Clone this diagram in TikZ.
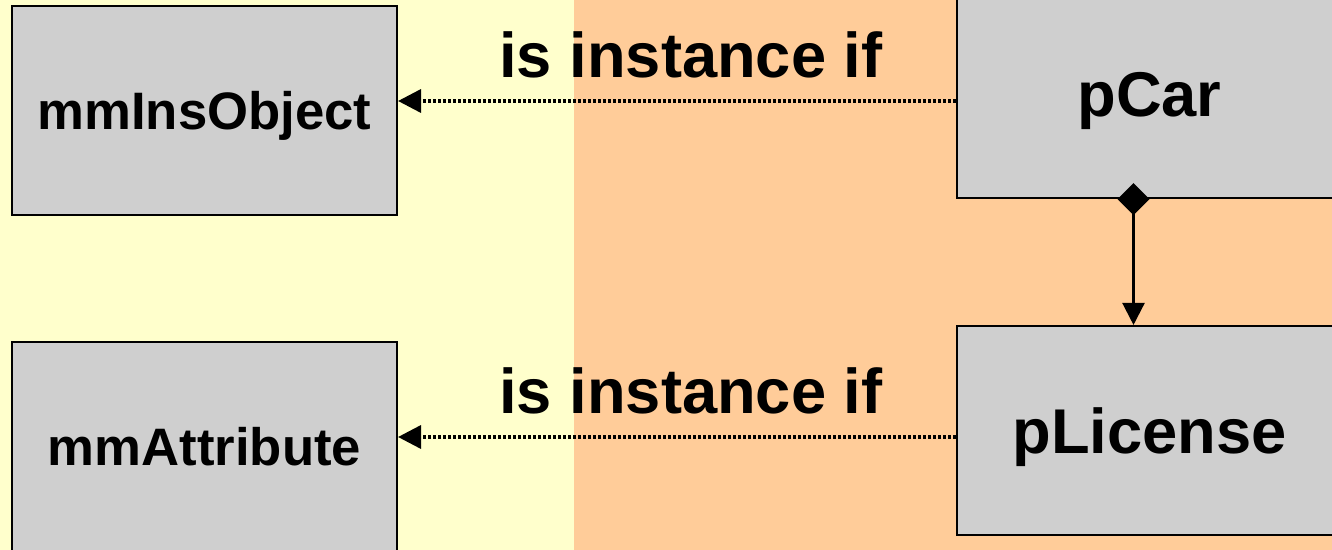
\documentclass[tikz,border=0pt]{standalone}
\usepackage{fontspec}
\setmainfont{Liberation Sans}
\usetikzlibrary{arrows.meta}

\definecolor{metabg}{RGB}{255,255,204}
\definecolor{modelbg}{RGB}{255,204,153}
\definecolor{classgray}{RGB}{207,207,207}

\tikzset{
  classbox/.style={draw, line width=1.2pt, fill=classgray, minimum width=7.7cm,
    minimum height=4.18cm, inner sep=0pt, text depth=0pt},
  metabox/.style={classbox, text height=21.6pt, font=\bfseries\fontsize{30}{36}\selectfont},
  modelbox/.style={classbox, text height=26pt, font=\bfseries\fontsize{36}{43}\selectfont},
  instanceof/.style={line width=2pt, dash pattern=on 0.06cm off 0.04cm,
    -{Triangle[length=0.46cm, width=0.46cm]}},
  instlabel/.style={above=0.42cm, inner sep=0pt, font=\bfseries\fontsize{36}{43}\selectfont},
  partof/.style={line width=1.3pt,
    {Diamond[length=0.64cm, width=0.64cm]}-{Triangle[length=0.44cm, width=0.44cm]}}
}

\begin{document}
\begin{tikzpicture}[x=0.02cm, y=-0.02cm]
  \useasboundingbox (0,0) rectangle (1332,550);
  \clip (0,0) rectangle (1332,550);
  % meta level and model level
  \fill[metabg] (0,0) rectangle (574,550);
  \fill[modelbg] (574,0) rectangle (1332,550);

  \node[metabox] (mmInsObject) at (204.5,110.5) {mmInsObject};
  \node[metabox] (mmAttribute) at (204.5,446.5) {mmAttribute};
  \node[modelbox] (pCar) at (1149.5,93.5) {pCar};
  \node[modelbox] (pLicense) at (1149.5,430.5) {pLicense};

  \draw[instanceof] (pCar.west |- 0,101) --
    node[instlabel, pos=0.475] {is instance if} (mmInsObject.east |- 0,101);
  \draw[instanceof] (pLicense.west |- 0,437) --
    node[instlabel, pos=0.475] {is instance if} (mmAttribute.east |- 0,437);
  % composition
  \draw[partof] ([xshift=-0.32cm, yshift=0.32cm]pCar.south) -- ([xshift=-0.32cm]pLicense.north);
\end{tikzpicture}
\end{document}
